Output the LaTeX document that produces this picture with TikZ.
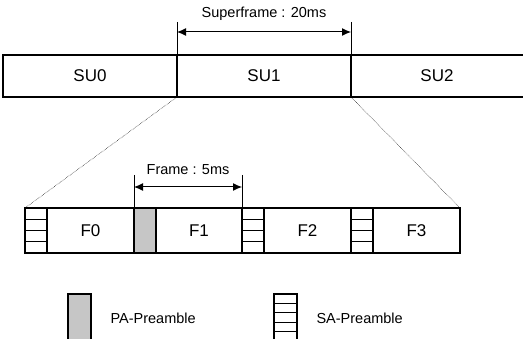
\documentclass[tikz,border=0pt]{standalone}
\usepackage{fontspec}
\setmainfont{Liberation Sans}
\usetikzlibrary{arrows.meta,patterns}
\begin{document}
\begin{tikzpicture}[x=1pt,y=-1pt,
  box/.style={draw,line width=1.3pt},
  lbl/.style={font=\fontsize{17}{20}\selectfont},
  small/.style={font=\fontsize{14.5}{17}\selectfont},
  dim/.style={line width=1pt,{Latex[length=9pt,width=8pt]}-{Latex[length=9pt,width=8pt]}},
  tick/.style={line width=0.6pt},
  zoomline/.style={line width=0.5pt,densely dotted},
  pa/.style={draw,line width=1.3pt,fill=gray!45},
  sa/.style={draw,line width=1.3pt}]
\useasboundingbox (0,0) rectangle (523,339);
\clip (0,0) rectangle (523,339);
% top row
\draw[box] (3,55) rectangle (177,97);
\draw[box] (177,55) rectangle (351,97);
\draw[box] (530,55) -- (351,55) -- (351,97) -- (530,97);
\node[lbl] (su0) at (90,76) {SU0};
\node[lbl] (su1) at (264,76) {SU1};
\node[lbl] (su2) at (437,76) {SU2};
\coordinate (s1) at (177,22); \coordinate (s1b) at (177,55);
\coordinate (s2) at (351,22); \coordinate (s2b) at (351,55);
\draw[tick] (s1) -- (s1b);
\draw[tick] (s2) -- (s2b);
\coordinate (sa1) at (177,32); \coordinate (sa2) at (351,32);
\draw[dim] (sa1) -- (sa2);
\node[small] (sf) at (264,14) {Superframe : 20ms};
% zoom lines
\coordinate (z1) at (177,97); \coordinate (z2) at (351,97);
\coordinate (b1) at (25,208); \coordinate (b2) at (460,208);
\draw[zoomline] (z1) -- (b1);
\draw[zoomline] (z2) -- (b2);
% bottom row
\draw[box] (25,208) rectangle (460,253);
\foreach \a in {25,242,351}{
  \draw[sa] (\a,208) rectangle ++(22,45);
  \foreach \yy in {219.25,230.5,241.75} \draw[line width=1pt] (\a,\yy) -- ++(22,0);
}
\draw[pa] (134,208) rectangle (156,253);
\node[lbl] (f0) at (90.5,231) {F0};
\node[lbl] (f1) at (199,231) {F1};
\node[lbl] (f2) at (307.5,231) {F2};
\node[lbl] (f3) at (416.5,231) {F3};
\coordinate (t1) at (134,175); \coordinate (t1b) at (134,208);
\coordinate (t2) at (242,175); \coordinate (t2b) at (242,208);
\draw[tick] (t1) -- (t1b);
\draw[tick] (t2) -- (t2b);
\coordinate (fa1) at (134,187); \coordinate (fa2) at (242,187);
\draw[dim] (fa1) -- (fa2);
\node[small] (fr) at (188,170) {Frame : 5ms};
% legend
\draw[pa] (68,294) rectangle (91,345);
\node[small,anchor=west] (lpa) at (107,318) {PA-Preamble};
\draw[sa] (274,294) rectangle (297,345);
\foreach \yy in {304,313,323,332} \draw[line width=1pt] (274,\yy) -- (297,\yy);
\node[small,anchor=west] (lsa) at (313,318) {SA-Preamble};
\end{tikzpicture}
\end{document}
